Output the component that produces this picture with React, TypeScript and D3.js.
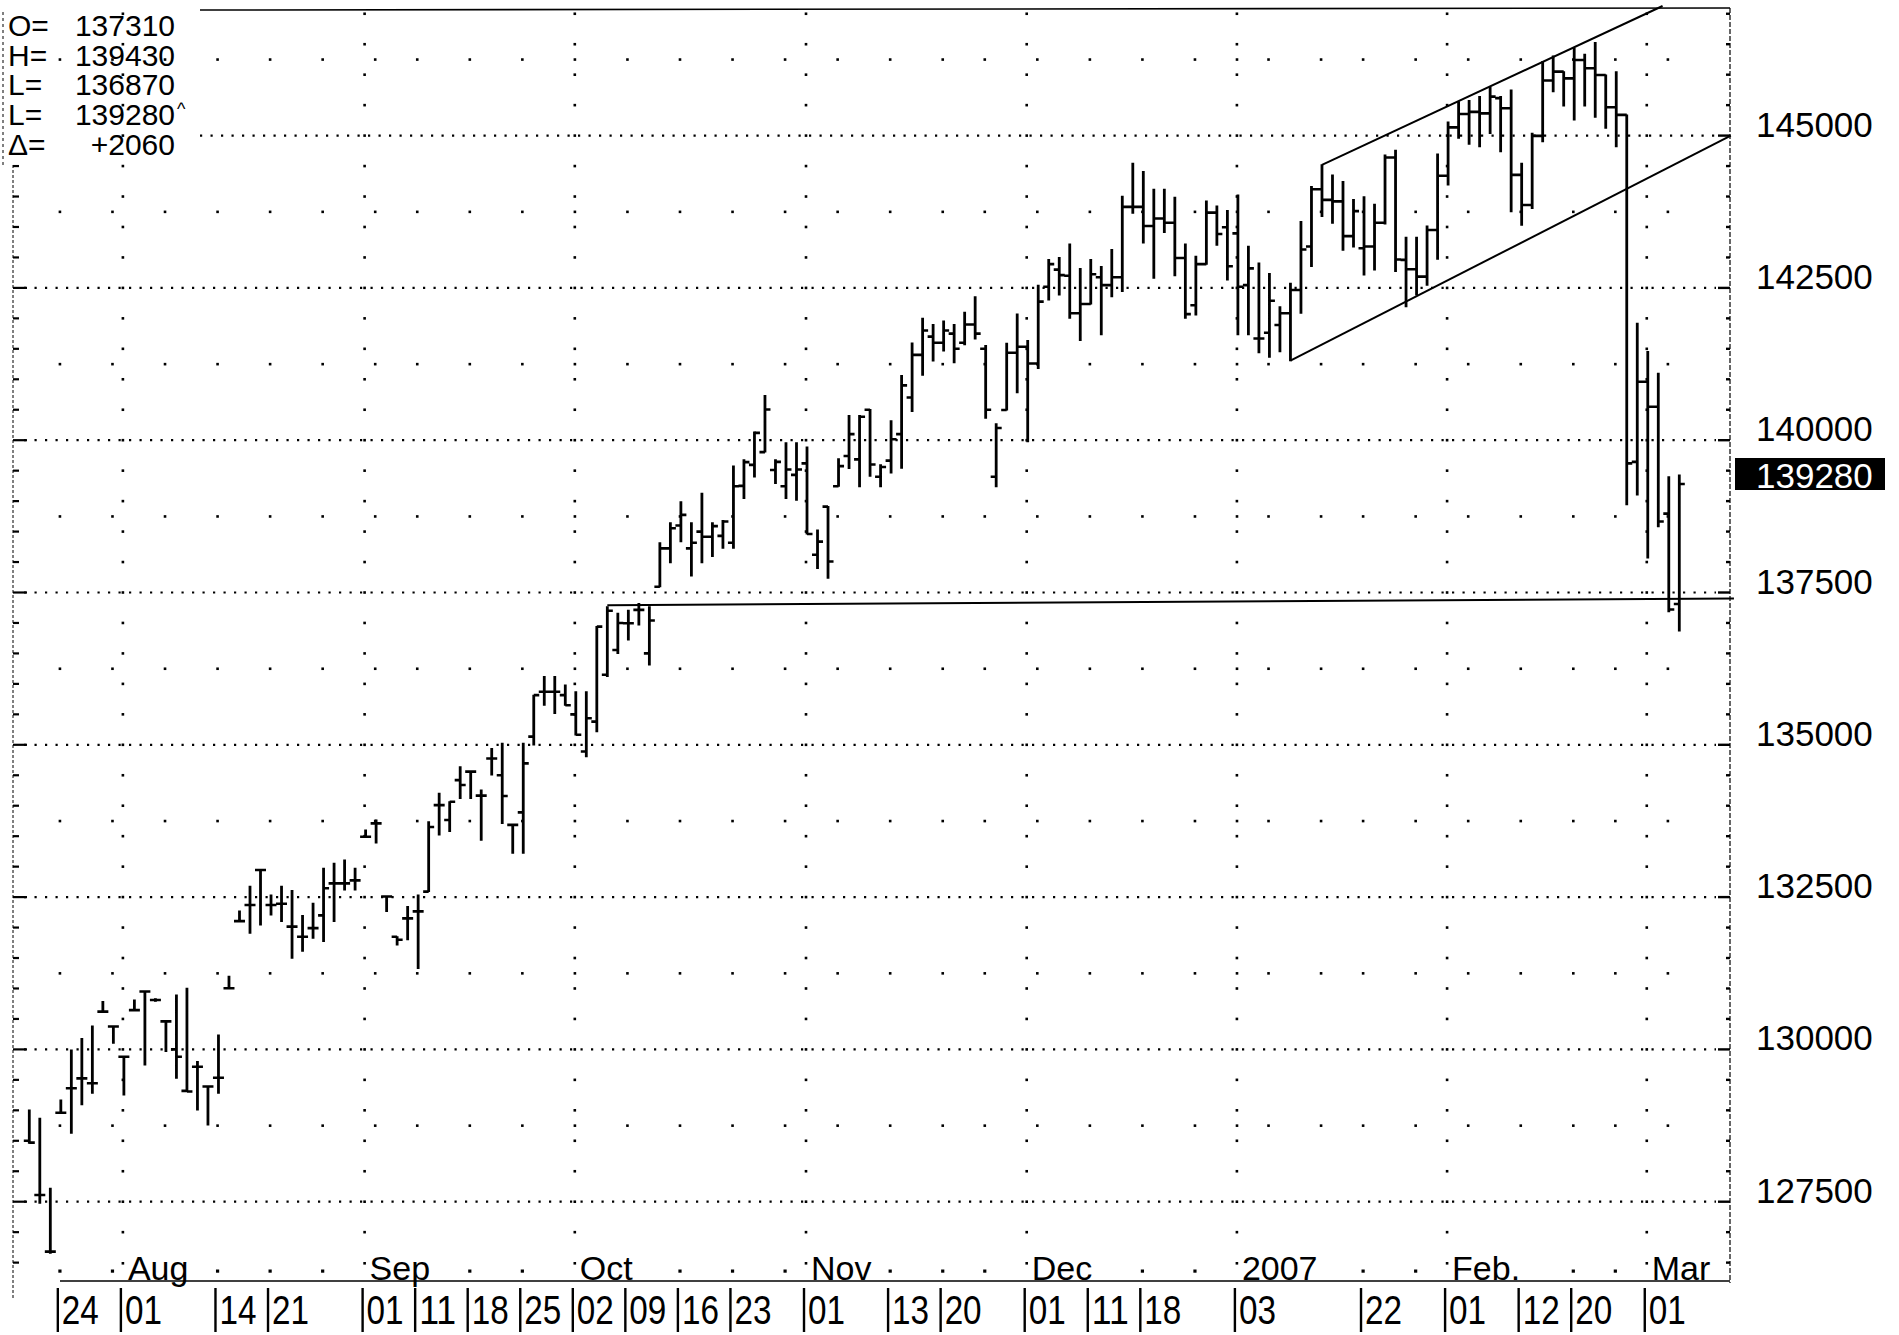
import React from 'react';
import * as d3 from 'd3';

const W = 1899;
const H = 1335;

// ---------- data (daily OHLC, Jul 19 2006 .. Mar 6 2007) ----------
const openP = [
  128500, 127610, 126680, 128960, 129362, 129525, 129444, 130620, 130375, 129880,
  130645, 130950, 130810, 130460, 130000, 129320, 129715, 129390, 129535, 131005,
  132105, 132370, 132945, 132370, 132390, 132015, 131850, 131990, 132200, 132725,
  132725, 132775, 133490, 133710, 132510, 131850, 132150, 132265, 132590, 134010,
  133766, 134420, 134560, 134165, 134775, 134500, 133685, 133890, 135135, 135870,
  135870, 135815, 135500, 134890, 135380, 136150, 136555, 136995, 137215, 136500,
  137595, 138225, 138600, 138225, 138500, 138415, 138430, 138317, 139250, 139595,
  139805, 139510, 139245, 139430, 139620, 138120, 138910, 139245, 139740, 139685,
  140500, 139400, 139665, 140100, 140700, 141400, 141700, 141600, 141750, 141600,
  141900, 141500, 139400, 140495, 141435, 141535, 141260, 142520, 142800, 142700,
  142085, 142235, 142675, 142545, 142675, 143830, 143830, 143515, 143640, 143570,
  142990, 142215, 142890, 143735, 143495, 143395, 142545, 141670, 141765, 141890,
  142085, 142465, 143180, 144120, 143945, 143920, 143350, 143150, 143180, 143570,
  144640, 142960, 142805, 142685, 143450, 144340, 145135, 145355, 145390, 145365,
  145615, 145450, 144355, 143860, 144995, 145905, 146050, 145940, 146240, 146105,
  145995, 145465, 145340, 139645, 140960, 140550, 138795, 137310,
];
const highP = [
  129005, 128869, 127720, 129170, 129990, 130180, 130385, 130785, 130375, 129880,
  130810, 130950, 130830, 130460, 130895, 131005, 129800, 129390, 130235, 131200,
  132270, 132680, 132945, 132535, 132680, 132610, 132200, 132400, 132975, 133055,
  133110, 132975, 133600, 133766, 132510, 131850, 132345, 132535, 133737, 134205,
  134065, 134640, 134560, 134260, 134940, 135025, 133685, 135025, 135815, 136120,
  136120, 135980, 135870, 135870, 136940, 137265, 137160, 137210, 137320, 137265,
  138317, 138645, 138990, 138645, 139130, 138645, 138680, 139575, 139680, 140135,
  140735, 139680, 139960, 139960, 139890, 138525, 138910, 139695, 140405, 140405,
  140505, 139595, 140320, 141060, 141595, 142000, 141900, 141955, 141900, 142100,
  142355, 141555, 140270, 141590, 142070, 141635, 142545, 142965, 143000, 143220,
  142820, 142965, 142850, 143130, 144005, 144545, 144410, 144120, 144120, 143990,
  143220, 143020, 143925, 143845, 143770, 144025, 143185, 142910, 142735, 142190,
  142575, 143590, 144165, 144520, 144355, 144245, 143950, 143995, 143875, 144680,
  144760, 143330, 143330, 143515, 144700, 145225, 145555, 145575, 145640, 145790,
  145640, 145750, 144545, 145040, 146215, 146305, 146050, 146435, 146335, 146530,
  145995, 146050, 145340, 141920, 141455, 141100, 139400, 139430,
];
const lowP = [
  128459, 127474, 126653, 128950, 128622, 129090, 129280, 130620, 130100, 129250,
  130645, 129745, 130790, 129965, 129525, 129310, 129005, 128760, 129280, 131005,
  132105, 131905, 132040, 132205, 132100, 131495, 131610, 131825, 131770, 132100,
  132615, 132615, 133490, 133390, 132265, 131715, 131800, 131330, 132590, 133520,
  133575, 134120, 134120, 133435, 134505, 133710, 133220, 133220, 134995, 135650,
  135515, 135650, 135160, 134805, 135215, 136120, 136500, 136720, 136965, 136310,
  137595, 137990, 138335, 137770, 137990, 138090, 138225, 138225, 139045, 139395,
  139805, 139290, 139045, 139015, 138460, 137895, 137735, 139245, 139535, 139235,
  139410, 139235, 139460, 139540, 140470, 141065, 141300, 141465, 141270, 141565,
  141660, 140360, 139235, 140495, 140780, 139975, 141175, 142300, 142385, 142000,
  141635, 142235, 141730, 142355, 142440, 143725, 143235, 142660, 143410, 142700,
  142000, 142055, 142890, 143200, 142630, 141730, 141730, 141435, 141360, 141450,
  141305, 142085, 142850, 143670, 143560, 143120, 143170, 142710, 142795, 143550,
  142770, 142190, 142385, 142545, 142970, 144190, 144955, 144860, 144815, 145035,
  144735, 143750, 143530, 143805, 144900, 145720, 145485, 145255, 145485, 145300,
  145120, 144815, 138940, 139100, 138065, 138580, 137185, 136870,
];
const closeP = [
  128470, 127610, 126680, 128960, 129362, 129525, 129444, 130620, 130375, 129880,
  130645, 130950, 130810, 130460, 129880, 129310, 129715, 129390, 129535, 131005,
  132105, 132370, 132945, 132370, 132390, 132015, 131850, 131990, 132645, 132725,
  132725, 132775, 133490, 133710, 132510, 131800, 132150, 132265, 133650, 134010,
  134065, 134340, 134560, 134165, 134775, 134160, 133685, 134695, 135815, 135870,
  135870, 135650, 135165, 135435, 136940, 137200, 137000, 136995, 137215, 137040,
  138225, 138555, 138775, 138317, 138415, 138590, 138665, 139245, 139640, 140120,
  140505, 139645, 139520, 139520, 138460, 138335, 138010, 139575, 140100, 140385,
  139600, 139560, 140015, 140900, 141400, 141800, 141600, 141800, 141500, 141900,
  141750, 140500, 140200, 141435, 141535, 141260, 142275, 142890, 142710, 142085,
  142235, 142725, 142545, 142675, 143830, 143830, 143515, 143640, 143570, 142990,
  142070, 142890, 143735, 143385, 142855, 142520, 142820, 141670, 142290, 142085,
  142465, 143130, 144120, 143945, 143920, 143350, 143760, 143180, 143570, 144640,
  142965, 142805, 142685, 143450, 144340, 145135, 145355, 145390, 145365, 145640,
  145450, 144355, 143860, 144995, 145905, 146050, 145940, 146240, 146105, 145995,
  145465, 145340, 139620, 140960, 140550, 138665, 137220, 139280,
];

const priceTicks = [127500, 130000, 132500, 135000, 137500, 140000, 142500, 145000];
const midLevels = [128750, 131250, 133750, 136250, 138750, 141250, 143750, 146250];

// bar index of each dated tick label
const dateLabelIdx = [3, 9, 18, 23, 32, 37, 42, 47, 52, 57, 62, 67, 74, 82, 87, 95, 101, 106, 115, 127, 135, 142, 147, 154];
const dateLabelText = ['24', '01', '14', '21', '01', '11', '18', '25', '02', '09', '16', '23', '01', '13', '20', '01', '11', '18', '03', '22', '01', '12', '20', '01'];
const monthIdx = [9, 32, 52, 74, 95, 115, 135, 154];
const monthText = ['Aug', 'Sep', 'Oct', 'Nov', 'Dec', '2007', 'Feb.', 'Mar'];
const weekStarts = [3, 8, 13, 18, 23, 28, 33, 37, 42, 47, 52, 57, 62, 67, 72, 77, 82, 87, 91, 96, 101, 106, 111, 115, 118, 123, 127, 132, 137, 142, 147, 151, 156];

const infoKeys = ['O=', 'H=', 'L=', 'L=', 'Δ='];
const infoVals = ['137310', '139430', '136870', '139280', '+2060'];
const lastValue = 139280;

// drawn lines, in (bar index, price)
const supportLine = [[55, 137290], [162.2, 137400]];
const channelUpper = [[123, 144520], [147, 146451]];
const channelLower = [[120, 141305], [161.9, 145000]];

const FONT = '"Liberation Sans", Arial, Helvetica, sans-serif';

export default function App() {
  const n = openP.length;
  const x = d3.scaleLinear().domain([0, n - 1]).range([29.3, 1679.3]);
  const y = d3.scaleLinear().domain([127500, 145000]).range([1201.7, 135.6]);

  const axisR = 1730;
  const axisL = 13;
  const plotTop = 8;
  const tickLen = 5.5;

  let bars = '';
  let ticks = '';
  for (let i = 0; i < n; i++) {
    const xi = x(i);
    bars += `M${xi},${y(highP[i]) - 0.5}V${y(lowP[i]) + 0.5}`;
    ticks += `M${xi - tickLen},${y(openP[i])}H${xi}M${xi},${y(closeP[i])}H${xi + tickLen}`;
  }

  const minor = d3.range(126500, 147001, 500);

  const upLine = (() => {
    const [a, b] = channelUpper;
    const x1 = x(a[0]), y1 = y(a[1]);
    const s = (y(b[1]) - y1) / (x(b[0]) - x1);
    const yEnd = 6;
    const x2 = x1 + (yEnd - y1) / s;
    return { x1, y1, x2, y2: yEnd };
  })();
  const lowLine = (() => {
    const [a, b] = channelLower;
    return { x1: x(a[0]), y1: y(a[1]), x2: x(b[0]), y2: y(b[1]) };
  })();

  const monthBaseline = 1281;
  const dateBaseline = 1324;
  const monthDotY = 1271;

  const monthExtents = monthIdx.map((m, k) => [x(m) - 6, x(m) + 8 + monthText[k].length * 19]);

  return (
    <svg
      width={W}
      height={H}
      viewBox={`0 0 ${W} ${H}`}
      style={{ position: 'absolute', left: 0, top: 0, background: '#fff' }}
      fontFamily={FONT}
    >
      <rect x={0} y={0} width={W} height={H} fill="#fff" />

      {/* top border */}
      <line x1={200} y1={10} x2={axisR} y2={8} stroke="#000" strokeWidth={1.6} />

      {/* left axis */}
      <line x1={3} y1={plotTop + 4} x2={3} y2={165} stroke="#000" strokeWidth={1} strokeDasharray="3 3" />
      <line x1={axisL} y1={165} x2={axisL} y2={1300} stroke="#000" strokeWidth={1} strokeDasharray="3 2" />
      {minor
        .filter((p) => y(p) > 165)
        .map((p) => (
          <line key={'lt' + p} x1={axisL} x2={axisL + (p % 2500 === 0 ? 14 : 6)} y1={y(p)} y2={y(p)} stroke="#000" strokeWidth={2.2} />
        ))}

      {/* right axis */}
      <line x1={axisR} y1={plotTop} x2={axisR} y2={1283} stroke="#000" strokeWidth={1.2} strokeDasharray="5 2" />
      {minor.map((p) => (
        <line key={'rt' + p} x1={axisR - (p % 2500 === 0 ? 12 : 4)} x2={axisR} y1={y(p)} y2={y(p)} stroke="#000" strokeWidth={2.4} />
      ))}

      {/* major dotted grid rows */}
      {priceTicks.map((p) => (
        <line
          key={'g' + p}
          x1={p === 145000 ? 200 : 24}
          x2={axisR - 14}
          y1={y(p)}
          y2={y(p)}
          stroke="#000"
          strokeWidth={2.2}
          strokeDasharray="2.2 8.3"
        />
      ))}

      {/* mid rows: weekly dots */}
      {midLevels.map((p) =>
        weekStarts.map((w) => (
          <rect key={'m' + p + '_' + w} x={x(w) - 2.2} y={y(p) - 1.2} width={2.6} height={2.6} fill="#000" />
        ))
      )}

      {/* weekly dots in the month row */}
      {weekStarts.map((w) => {
        const wx = x(w) - 1;
        if (monthExtents.some(([a, b]) => wx > a && wx < b)) return null;
        return <rect key={'md' + w} x={wx - 1.5} y={monthDotY - 1.5} width={3.2} height={3.2} fill="#000" />;
      })}

      {/* month columns: dots every 500 */}
      {monthIdx.map((m) =>
        d3.range(127000, 147001, 500).map((p) => (
          <rect key={'c' + m + '_' + p} x={x(m) - 2.3} y={y(p) - 1.3} width={2.6} height={2.6} fill="#000" />
        ))
      )}

      {/* support line and channel */}
      <line
        x1={x(supportLine[0][0])}
        y1={y(supportLine[0][1])}
        x2={x(supportLine[1][0])}
        y2={y(supportLine[1][1])}
        stroke="#000"
        strokeWidth={2}
      />
      <line x1={upLine.x1} y1={upLine.y1} x2={upLine.x2} y2={upLine.y2} stroke="#000" strokeWidth={2} />
      <line x1={lowLine.x1} y1={lowLine.y1} x2={lowLine.x2} y2={lowLine.y2} stroke="#000" strokeWidth={2} />

      {/* OHLC bars */}
      <path d={bars} stroke="#000" strokeWidth={2.8} fill="none" />
      <path d={ticks} stroke="#000" strokeWidth={2.6} fill="none" />

      {/* right axis labels */}
      {priceTicks.map((p) => (
        <text key={'pl' + p} x={1756} y={y(p) + 1} fontSize={35} fill="#000">
          {p}
        </text>
      ))}

      {/* last value box */}
      <rect x={1735} y={458} width={150} height={32} fill="#000" />
      <text x={1756} y={488} fontSize={35} fill="#fff">
        {lastValue}
      </text>

      {/* info panel */}
      {infoKeys.map((k, r) => (
        <g key={'info' + r}>
          <text x={8} y={36 + r * 29.7} fontSize={30} fill="#000">
            {k}
          </text>
          <text x={175} y={36 + r * 29.7} fontSize={30} fill="#000" textAnchor="end">
            {infoVals[r]}
          </text>
          {r === 3 && (
            <text x={177} y={36 + r * 29.7 - 10} fontSize={18} fill="#000">
              ^
            </text>
          )}
        </g>
      ))}

      {/* month row */}
      <line x1={60} y1={monthBaseline} x2={axisR} y2={monthBaseline} stroke="#000" strokeWidth={1.6} />
      {monthIdx.map((m, k) => (
        <g key={'mo' + k}>
          <rect x={x(m) - 2.3} y={1262} width={2.6} height={2.6} fill="#000" />
          <text x={x(m) + 4} y={monthBaseline - 1} fontSize={34} fill="#000">
            {monthText[k]}
          </text>
        </g>
      ))}

      {/* date labels */}
      {dateLabelIdx.map((di, k) => (
        <g key={'dl' + k}>
          <line x1={x(di) - 3} x2={x(di) - 3} y1={1288} y2={1332} stroke="#000" strokeWidth={2.4} />
          <text
            x={x(di) + 1}
            y={dateBaseline}
            fontSize={41}
            fill="#000"
            textLength={37}
            lengthAdjust="spacingAndGlyphs"
          >
            {dateLabelText[k]}
          </text>
        </g>
      ))}
    </svg>
  );
}
